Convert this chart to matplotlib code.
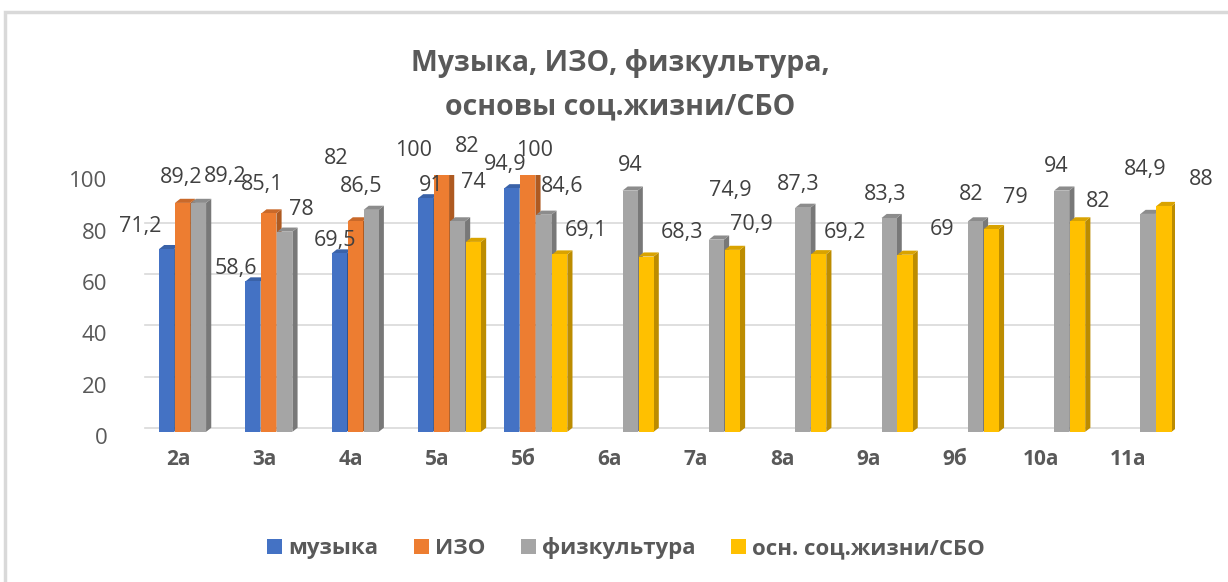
import matplotlib.pyplot as plt
import numpy as np
from matplotlib.patches import Polygon, Rectangle
from matplotlib.transforms import ScaledTranslation

plt.rcParams['font.family'] = ['Open Sans', 'DejaVu Sans']

classes = ["2а", "3а", "4а", "5а", "5б", "6а", "7а", "8а", "9а", "9б", "10а", "11а"]
muzyka = [71.2, 58.6, 69.5, 91, 94.9, None, None, None, None, None, None, None]
izo = [89.2, 85.1, 82, 100, 100, None, None, None, None, None, None, None]
fizra = [89.2, 78, 86.5, 82, 84.6, 94, 74.9, 87.3, 83.3, 82, 94, 84.9]
sbo = [None, None, None, 74, 69.1, 68.3, 70.9, 69.2, 69, 79, 82, 88]

names = ["музыка", "ИЗО", "физкультура", "осн. соц.жизни/СБО"]
series = [muzyka, izo, fizra, sbo]
colors = ["#4472C4", "#ED7D31", "#A5A5A5", "#FFC000"]
dark = ["#2F528F", "#AE5A21", "#787878", "#BC8C00"]
top_c = ["#3A62A8", "#C9692A", "#8C8C8C", "#D9A300"]

# label offsets in points (Excel places them a bit at random)
off_muz = [(-19, 16), (-12, 9), (-3, 9), (4, 9), (-5, 17)] + [None] * 7
off_izo = [(-1, 18), (-5, 21), (-14, 45), (-20, 18), (5, 18)] + [None] * 7
off_fiz = [(19, 19), (12, 16), (-7, 17), (7, 54), (13, 20), (0, 18),
           (10, 35), (-3, 17), (-3, 17), (-3, 19), (-4, 17), (-2, 32)]
off_sbo = [None] * 3 + [(0, 43), (19, 17), (26, 17), (14, 18), (19, 16),
                        (27, 18), (17, 23), (15, 14), (27, 19)]
offsets = [off_muz, off_izo, off_fiz, off_sbo]

fig = plt.figure(figsize=(12.28, 5.82), dpi=100)
fig.patches.append(Rectangle((5 / 1228, -0.1), 1.2, 1 - 12 / 582 + 0.1,
                             transform=fig.transFigure, fill=False,
                             edgecolor="#D9D9D9", linewidth=2.5))
ax = fig.add_axes([0.11, 0.258, 0.847, 0.441])

x = np.arange(len(classes))
slot = 0.185
w = 0.175
dx = 0.06
dy = 1.6
for j, vals in enumerate(series):
    for i, v in enumerate(vals):
        if v is None:
            continue
        xc = x[i] + (j - 1) * slot + 0.05
        l, r = xc - w / 2, xc + w / 2
        ax.add_patch(Polygon([(r, 0), (r + dx, dy), (r + dx, v + dy), (r, v)],
                             closed=True, facecolor=dark[j], edgecolor="none", zorder=3))
        ax.add_patch(Polygon([(l, v), (r, v), (r + dx, v + dy), (l + dx, v + dy)],
                             closed=True, facecolor=top_c[j], edgecolor="none", zorder=3))
        ax.bar(xc, v, width=w, color=colors[j], zorder=4)
        txt = ("%g" % v).replace(".", ",")
        ax.annotate(txt, (xc, v), xytext=offsets[j][i], textcoords="offset points",
                    ha="center", va="center", fontsize=15.5, color="#404040",
                    annotation_clip=False, zorder=6)

for j in range(4):
    ax.bar(0, 0, width=0, color=colors[j], label=names[j])

ax.set_xlim(-0.5, 11.55)
ax.set_ylim(0, 100)
ax.set_yticks([0, 20, 40, 60, 80, 100])
ax.set_xticks(x)
ax.set_xticklabels(classes)
ax.tick_params(axis="y", length=0, pad=20, labelsize=16, labelcolor="#595959")
ax.tick_params(axis="x", length=0, pad=12, labelsize=15, labelcolor="#595959")
for t in ax.get_xticklabels():
    t.set_fontweight("bold")
for t in ax.get_yticklabels():
    t.set_transform(t.get_transform() + ScaledTranslation(0, -4 / 100, fig.dpi_scale_trans))
ax.grid(axis="y", color="#D9D9D9", linewidth=1.2, zorder=0)
for gl in ax.get_ygridlines():
    gl.set_transform(gl.get_transform() + ScaledTranslation(0.1, 4 / 100, fig.dpi_scale_trans))
for s in ax.spines.values():
    s.set_visible(False)

fig.text(0.505, 0.853, "Музыка, ИЗО, физкультура,\nосновы соц.жизни/СБО",
         ha="center", va="center", fontsize=20.5, fontweight="bold",
         color="#595959", linespacing=1.65)

leg = fig.legend(loc="center", bbox_to_anchor=(0.51, 0.058), ncol=4, frameon=False,
                 prop={"size": 16, "weight": "bold"}, handlelength=0.65,
                 handleheight=0.65, handletextpad=0.3, columnspacing=1.6,
                 labelcolor="#595959")

fig.savefig("out.png", dpi=100)
